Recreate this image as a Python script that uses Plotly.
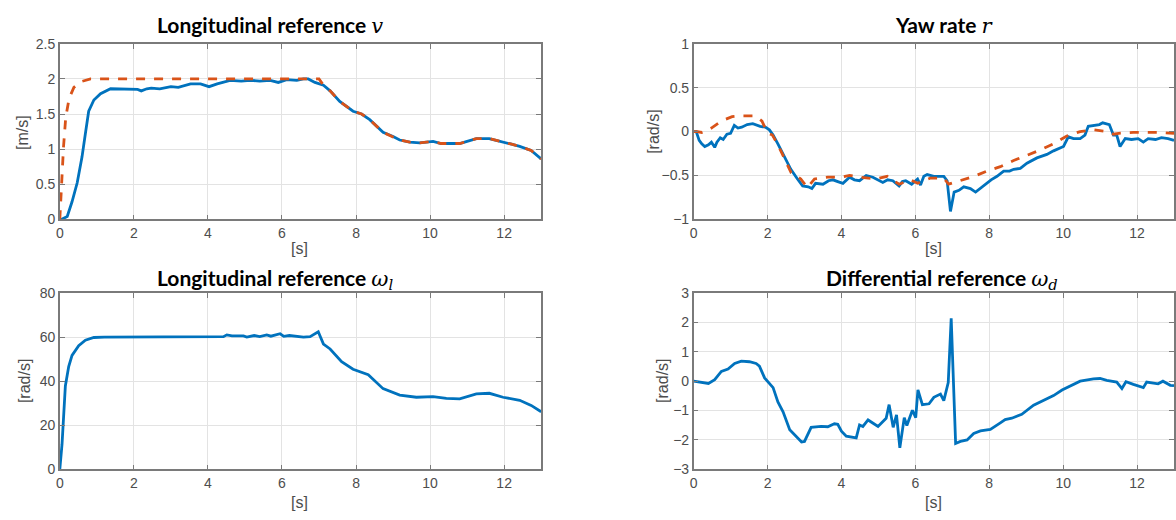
import plotly.graph_objects as go

# ---- longitudinal speed v [m/s] ----
t_v_meas = [0, 0.05, 0.2, 0.33, 0.47, 0.6, 0.69, 0.78, 0.92, 1.1, 1.37, 1.6, 1.92, 2.1, 2.2, 2.35, 2.47, 2.7, 3.0, 3.2, 3.53, 3.8, 4.03, 4.25, 4.6, 4.9, 5.14, 5.4, 5.68, 5.9, 6.13, 6.4, 6.58, 6.71, 6.89, 7.12,
            7.3, 7.56, 7.92, 8.15, 8.37, 8.73, 9.0, 9.18, 9.45, 9.72, 10.08, 10.3, 10.44, 10.8, 11.0, 11.25, 11.6, 11.8, 11.97, 12.2, 12.42, 12.73, 13.0]
v_meas = [0, 0, 0.04, 0.25, 0.52, 0.89, 1.22, 1.54, 1.70, 1.79, 1.86, 1.86, 1.86, 1.85, 1.83, 1.86, 1.87, 1.86, 1.89, 1.88, 1.93, 1.93, 1.89, 1.93, 1.98, 1.97, 1.98, 1.97, 1.98, 1.95, 1.99, 1.98, 2.0, 2.0, 1.95, 1.91,
          1.83, 1.68, 1.54, 1.50, 1.42, 1.24, 1.18, 1.13, 1.10, 1.09, 1.11, 1.08, 1.08, 1.08, 1.11, 1.15, 1.15, 1.12, 1.10, 1.07, 1.04, 0.98, 0.86]

t_v_ref = [0, 0.04, 0.1, 0.16, 0.25, 0.38, 0.56, 0.83, 2.0, 4.0, 6.0, 7.0, 7.12,
           7.3, 7.56, 7.92, 8.15, 8.37, 8.73, 9.0, 9.18, 9.45, 9.72, 10.08, 10.3, 10.44, 10.8, 11.0, 11.25, 11.6, 11.8, 11.97, 12.2, 12.42, 12.73, 13.0]
v_ref = [0, 0.43, 1.03, 1.45, 1.72, 1.88, 1.96, 2.0, 2.0, 2.0, 2.0, 2.0, 1.91,
         1.83, 1.68, 1.54, 1.50, 1.42, 1.24, 1.18, 1.13, 1.10, 1.09, 1.11, 1.08, 1.08, 1.08, 1.11, 1.15, 1.15, 1.12, 1.10, 1.07, 1.04, 0.98, 0.86]

# ---- yaw rate r [rad/s] ----
t_r_meas = [0, 0.07, 0.15, 0.22, 0.3, 0.4, 0.48, 0.57, 0.63, 0.72, 0.8, 0.9, 1.0, 1.1, 1.2, 1.3, 1.45, 1.6, 1.8, 1.94, 2.05, 2.15, 2.28, 2.46, 2.63, 2.81, 2.95, 3.1, 3.2, 3.3, 3.5, 3.65, 3.77, 3.9, 4.04,
            4.22, 4.35, 4.49, 4.67, 4.85, 5.0, 5.12, 5.25, 5.39, 5.56, 5.65, 5.74, 5.9, 6.06, 6.14, 6.23, 6.32, 6.5, 6.77, 6.86, 6.95, 7.05, 7.18, 7.31, 7.49, 7.63, 7.77, 7.94, 8.05, 8.21,
            8.39, 8.55, 8.66, 8.84, 9.02, 9.29, 9.56, 9.74, 10.01, 10.14, 10.28, 10.46, 10.59, 10.68, 10.98, 11.07, 11.25, 11.36, 11.45, 11.54, 11.68, 11.85, 12.03, 12.17, 12.3, 12.5, 12.66, 12.84, 13.0]
r_meas = [0, 0, -0.1, -0.14, -0.17, -0.15, -0.12, -0.18, -0.12, -0.07, -0.09, -0.03, -0.02, 0.07, 0.04, 0.05, 0.08, 0.09, 0.06, 0.05, 0.02, -0.04, -0.14, -0.28, -0.43, -0.54, -0.62, -0.63, -0.65, -0.59, -0.6, -0.56, -0.55, -0.57, -0.59,
          -0.52, -0.55, -0.56, -0.5, -0.52, -0.55, -0.58, -0.55, -0.56, -0.62, -0.57, -0.56, -0.6, -0.54, -0.61, -0.51, -0.49, -0.51, -0.51, -0.56, -0.91, -0.69, -0.67, -0.63, -0.65, -0.69, -0.64, -0.58, -0.55, -0.51,
          -0.45, -0.45, -0.43, -0.42, -0.36, -0.3, -0.26, -0.22, -0.17, -0.06, -0.08, -0.08, -0.04, 0.06, 0.08, 0.1, 0.08, -0.04, -0.04, -0.17, -0.08, -0.09, -0.08, -0.12, -0.08, -0.09, -0.07, -0.08, -0.1]

t_r_ref = [0, 0.1, 0.22, 0.35, 0.48, 0.75, 1.04, 1.3, 1.66, 1.85, 1.99, 2.13, 2.28, 2.46, 2.64, 2.9, 3.08, 3.27, 3.63, 4.0, 4.22, 4.5, 4.94, 5.24, 5.56, 5.87, 6.06, 6.41, 6.77, 6.9,
           7.23, 7.59, 7.94, 8.3, 8.66, 9.02, 9.38, 9.74, 10.1, 10.46, 10.82, 11.18, 11.36, 11.5, 11.9, 12.27, 12.6, 13.0]
r_ref = [0, 0.0, -0.01, 0.01, 0.04, 0.12, 0.17, 0.18, 0.18, 0.12, -0.01, -0.04, -0.15, -0.32, -0.47, -0.54, -0.64, -0.54, -0.52, -0.52, -0.5, -0.52, -0.54, -0.51, -0.6, -0.55, -0.59, -0.53, -0.53, -0.6,
         -0.56, -0.51, -0.45, -0.4, -0.33, -0.27, -0.21, -0.14, -0.05, 0.0, 0.02, 0.0, -0.03, -0.02, -0.01, -0.01, -0.01, -0.02]

# ---- longitudinal wheel reference omega_l [rad/s] ----
t_wl = [0, 0.06, 0.15, 0.24, 0.33, 0.51, 0.69, 0.92, 1.2, 2.0, 3.0, 4.0, 4.42, 4.51, 4.65, 4.96, 5.05, 5.25, 5.4, 5.59, 5.7, 5.95, 6.05, 6.2, 6.35, 6.58, 6.76, 6.98, 7.12,
        7.3, 7.61, 7.92, 8.33, 8.73, 9.18, 9.63, 10.08, 10.44, 10.8, 11.25, 11.6, 11.97, 12.42, 12.73, 13.0]
w_l = [0, 11.4, 37.8, 46.6, 51.7, 56.1, 58.6, 59.8, 60, 60, 60, 60, 60.2, 61, 60.5, 60.5, 60, 60.7, 60.2, 61, 60.4, 61.5, 60.3, 60.7, 60.5, 60, 60.2, 62.4, 56.8,
       54.6, 48.8, 45.4, 42.9, 36.6, 33.7, 32.7, 33.0, 32.2, 32.0, 34.2, 34.5, 32.7, 31.3, 29.0, 26.1]

# ---- differential wheel reference omega_d [rad/s] ----
t_wd = [0, 0.2, 0.4, 0.57, 0.75, 0.93, 1.11, 1.29, 1.51, 1.69, 1.78, 1.92, 2.06, 2.15, 2.28, 2.37, 2.42, 2.6, 2.69, 2.83, 2.92, 3.0, 3.18, 3.45, 3.63, 3.81, 3.9, 4.0, 4.13, 4.4, 4.49, 4.58, 4.72, 4.99,
        5.21, 5.29, 5.4, 5.49, 5.58, 5.7, 5.77, 5.92, 6.01, 6.07, 6.19, 6.37, 6.5, 6.68, 6.77, 6.89, 6.97, 7.09, 7.22, 7.4, 7.58, 7.76, 8.03, 8.3, 8.43, 8.61, 8.88, 9.2, 9.47,
        9.74, 9.97, 10.19, 10.46, 10.82, 11.0, 11.18, 11.45, 11.59, 11.7, 11.9, 12.17, 12.26, 12.4, 12.57, 12.7, 12.9, 13.0]
w_d = [0, -0.04, -0.08, 0.05, 0.33, 0.41, 0.6, 0.68, 0.66, 0.6, 0.51, 0.11, -0.11, -0.22, -0.71, -0.93, -1.04, -1.65, -1.76, -1.93, -2.07, -2.05, -1.57, -1.54, -1.55, -1.45, -1.47, -1.7, -1.87, -1.93, -1.49, -1.54, -1.32, -1.54,
       -1.26, -0.8, -1.57, -1.15, -2.27, -1.24, -1.51, -0.99, -1.24, -0.3, -0.8, -0.77, -0.55, -0.44, -0.66, -0.05, 2.14, -2.12, -2.05, -2.0, -1.78, -1.69, -1.64, -1.42, -1.31, -1.26, -1.13, -0.82, -0.66,
       -0.49, -0.3, -0.16, 0.0, 0.08, 0.09, 0.03, -0.03, -0.25, -0.02, -0.11, -0.22, -0.03, -0.06, -0.09, 0.0, -0.14, -0.15]

BLUE = "#0072BD"
ORANGE = "#D95319"
TICK_FONT = dict(family="Liberation Sans, Arial, sans-serif", size=14, color="#4d4d4d")
LABEL_FONT = dict(family="Liberation Sans, Arial, sans-serif", size=16, color="#4d4d4d")
TITLE_FONT = dict(family="Lato, Open Sans, sans-serif", size=21, color="#000000")

fig = go.Figure()

def line(x, y, axis, color, dash="solid"):
    fig.add_trace(go.Scatter(x=x, y=y, mode="lines", xaxis="x" + axis, yaxis="y" + axis,
                             line=dict(color=color, width=2.8, dash=dash), showlegend=False,
                             hoverinfo="skip"))

line(t_v_meas, v_meas, "", BLUE)
line(t_v_ref, v_ref, "", ORANGE, "dash")
line(t_r_meas, r_meas, "2", BLUE)
line(t_r_ref, r_ref, "2", ORANGE, "dash")
line(t_wl, w_l, "3", BLUE)
line(t_wd, w_d, "4", BLUE)

W, H = 1176, 520
left_dom = [56 / W, 539 / W]
right_dom = [692 / W, 1174 / W]
top_dom = [1 - 218 / H, 1 - 37 / H]
bot_dom = [1 - 476 / H, 1 - 294 / H]
AXIS_GRAY = "#7a7a7a"

def xaxis(dom, anchor):
    return dict(domain=dom, anchor=anchor, range=[0, 13], tickvals=[0, 2, 4, 6, 8, 10, 12],
                showgrid=True, gridcolor="#e3e3e3", gridwidth=1, zeroline=False,
                showline=True, linecolor=AXIS_GRAY, linewidth=1.5, mirror="allticks",
                ticks="inside", ticklen=5, tickcolor=AXIS_GRAY, tickfont=TICK_FONT)

def yaxis(dom, anchor, rng, dtick):
    return dict(domain=dom, anchor=anchor, range=rng, dtick=dtick, tick0=rng[0],
                showgrid=True, gridcolor="#e3e3e3", gridwidth=1, zeroline=False,
                showline=True, linecolor=AXIS_GRAY, linewidth=1.5, mirror="allticks",
                ticks="inside", ticklen=5, tickcolor=AXIS_GRAY, tickfont=TICK_FONT)

fig.update_layout(
    width=W, height=H, margin=dict(l=0, r=0, t=0, b=0),
    paper_bgcolor="white", plot_bgcolor="white",
    xaxis=xaxis(left_dom, "y"), yaxis=yaxis(top_dom, "x", [0, 2.5], 0.5),
    xaxis2=xaxis(right_dom, "y2"), yaxis2=yaxis(top_dom, "x2", [-1, 1], 0.5),
    xaxis3=xaxis(left_dom, "y3"), yaxis3=yaxis(bot_dom, "x3", [0, 80], 20),
    xaxis4=xaxis(right_dom, "y4"), yaxis4=yaxis(bot_dom, "x4", [-3, 3], 1),
)

def ann(text, x, y, font, angle=0):
    fig.add_annotation(text=text, x=x / W, y=1 - y / H, xref="paper", yref="paper",
                       showarrow=False, font=font, textangle=angle,
                       xanchor="center", yanchor="middle")

MATH = "font-family:DejaVu Serif, serif;font-style:italic;font-weight:normal"
ann(f"<b>Longitudinal reference </b><span style='{MATH}'>v</span>", 267, 18, TITLE_FONT)
ann(f"<b>Yaw rate </b><span style='{MATH}'>r</span>", 944, 18, TITLE_FONT)
ann(f"<b>Longitudinal reference </b><span style='{MATH}'>ω<sub>l</sub></span>", 272, 280, TITLE_FONT)
ann(f"<b>Differential reference </b><span style='{MATH}'>ω<sub>d</sub></span>", 941, 280, TITLE_FONT)

for cx in (297, 933):
    ann("[s]", cx, 248, LABEL_FONT)
    ann("[s]", cx, 510, LABEL_FONT)
ann("[m/s]", 18, 128, LABEL_FONT, -90)
ann("[rad/s]", 651, 128, LABEL_FONT, -90)
ann("[rad/s]", 20, 385, LABEL_FONT, -90)
ann("[rad/s]", 660, 385, LABEL_FONT, -90)

fig.write_html("out.html")
